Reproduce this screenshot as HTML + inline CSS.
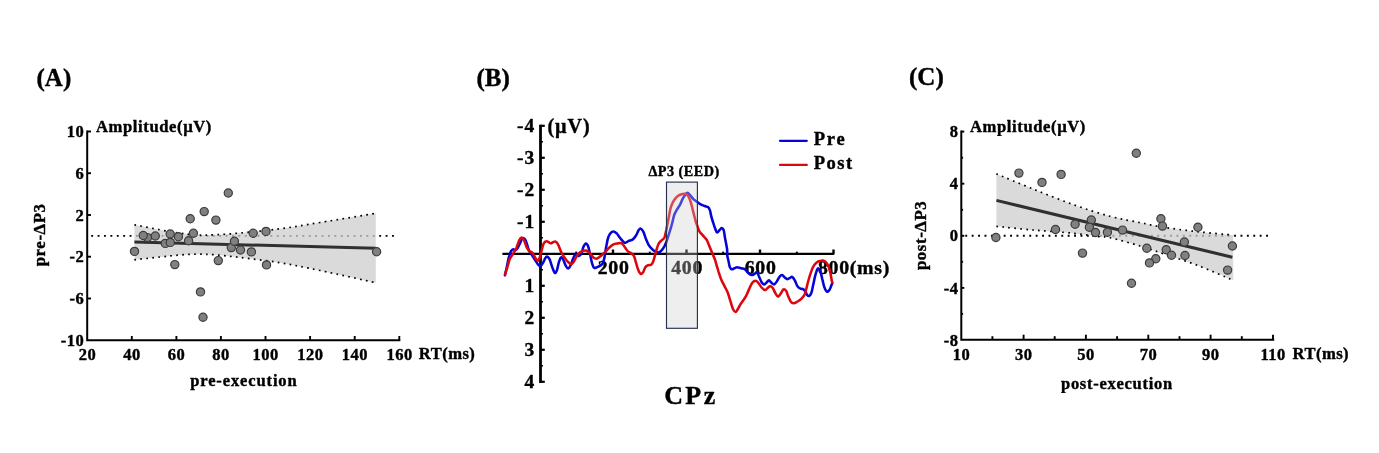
<!DOCTYPE html>
<html><head><meta charset="utf-8"><title>Figure</title>
<style>html,body{margin:0;padding:0;background:#fff;}body{width:1379px;height:453px;overflow:hidden;font-family:"Liberation Serif",serif;}svg{display:block;}text{font-family:"Liberation Serif",serif;font-weight:bold;fill:#000;stroke:#000;stroke-width:0.4px;stroke-linejoin:round;filter:grayscale(1);}</style>
</head><body>
<svg width="1379" height="453" viewBox="0 0 1379 453">
<rect width="1379" height="453" fill="#fff"/>
<text x="36.5" y="85.8" font-size="25" stroke-width="0.15">(A)</text>
<text x="476.5" y="85.8" font-size="25" stroke-width="0.15">(B)</text>
<text x="909" y="84.8" font-size="25" stroke-width="0.15">(C)</text>
<g id="panelA">
<line x1="88.2" y1="235.9" x2="394" y2="235.9" stroke="#000" stroke-width="1.9" stroke-dasharray="1.9 4.5" stroke-dashoffset="-3"/>
<path d="M134.4 224.8C138.7 225.6 152.4 228.4 160.0 229.8C167.6 231.2 173.8 232.3 180.0 233.2C186.2 234.0 191.2 234.6 197.0 234.9C202.8 235.2 207.8 235.1 215.0 234.8C222.2 234.5 229.2 234.0 240.0 233.0C250.8 232.0 266.7 230.6 280.0 228.8C293.3 227.1 304.0 225.1 320.0 222.5C336.0 219.9 366.5 214.8 375.8 213.3L375.8 282.7C366.5 280.7 336.0 273.8 320.0 270.5C304.0 267.2 293.3 264.9 280.0 262.7C266.7 260.5 250.8 258.8 240.0 257.5C229.2 256.2 222.2 255.4 215.0 254.8C207.8 254.2 202.8 254.2 197.0 254.2C191.2 254.2 186.2 254.5 180.0 255.0C173.8 255.5 167.6 256.2 160.0 257.0C152.4 257.8 138.7 259.3 134.4 259.8Z" fill="rgb(205,205,205)" fill-opacity="0.75"/>
<path d="M134.4 224.8C138.7 225.6 152.4 228.4 160.0 229.8C167.6 231.2 173.8 232.3 180.0 233.2C186.2 234.0 191.2 234.6 197.0 234.9C202.8 235.2 207.8 235.1 215.0 234.8C222.2 234.5 229.2 234.0 240.0 233.0C250.8 232.0 266.7 230.6 280.0 228.8C293.3 227.1 304.0 225.1 320.0 222.5C336.0 219.9 366.5 214.8 375.8 213.3" fill="none" stroke="#000" stroke-width="1.7" stroke-dasharray="1.7 4.3"/>
<path d="M134.4 259.8C138.7 259.3 152.4 257.8 160.0 257.0C167.6 256.2 173.8 255.5 180.0 255.0C186.2 254.5 191.2 254.2 197.0 254.2C202.8 254.2 207.8 254.2 215.0 254.8C222.2 255.4 229.2 256.2 240.0 257.5C250.8 258.8 266.7 260.5 280.0 262.7C293.3 264.9 304.0 267.2 320.0 270.5C336.0 273.8 366.5 280.7 375.8 282.7" fill="none" stroke="#000" stroke-width="1.7" stroke-dasharray="1.7 4.3"/>
<line x1="134.4" y1="242.0" x2="375.8" y2="248.3" stroke="#303030" stroke-width="3"/>
<circle cx="134.5" cy="251.4" r="4.1" fill="#808080" stroke="#3c3c3c" stroke-width="1.2"/>
<circle cx="147.5" cy="237.6" r="4.1" fill="#808080" stroke="#3c3c3c" stroke-width="1.2"/>
<circle cx="143.2" cy="235.5" r="4.1" fill="#808080" stroke="#3c3c3c" stroke-width="1.2"/>
<circle cx="155.3" cy="236.0" r="4.1" fill="#808080" stroke="#3c3c3c" stroke-width="1.2"/>
<circle cx="165.3" cy="243.4" r="4.1" fill="#808080" stroke="#3c3c3c" stroke-width="1.2"/>
<circle cx="170.2" cy="234.0" r="4.1" fill="#808080" stroke="#3c3c3c" stroke-width="1.2"/>
<circle cx="170.3" cy="242.4" r="4.1" fill="#808080" stroke="#3c3c3c" stroke-width="1.2"/>
<circle cx="178.4" cy="236.7" r="4.1" fill="#808080" stroke="#3c3c3c" stroke-width="1.2"/>
<circle cx="174.8" cy="264.6" r="4.1" fill="#808080" stroke="#3c3c3c" stroke-width="1.2"/>
<circle cx="188.6" cy="240.7" r="4.1" fill="#808080" stroke="#3c3c3c" stroke-width="1.2"/>
<circle cx="190.2" cy="218.7" r="4.1" fill="#808080" stroke="#3c3c3c" stroke-width="1.2"/>
<circle cx="193.4" cy="233.3" r="4.1" fill="#808080" stroke="#3c3c3c" stroke-width="1.2"/>
<circle cx="204.2" cy="211.6" r="4.1" fill="#808080" stroke="#3c3c3c" stroke-width="1.2"/>
<circle cx="215.9" cy="220.1" r="4.1" fill="#808080" stroke="#3c3c3c" stroke-width="1.2"/>
<circle cx="218.3" cy="260.6" r="4.1" fill="#808080" stroke="#3c3c3c" stroke-width="1.2"/>
<circle cx="228.3" cy="193.0" r="4.1" fill="#808080" stroke="#3c3c3c" stroke-width="1.2"/>
<circle cx="231.3" cy="247.6" r="4.1" fill="#808080" stroke="#3c3c3c" stroke-width="1.2"/>
<circle cx="234.4" cy="241.3" r="4.1" fill="#808080" stroke="#3c3c3c" stroke-width="1.2"/>
<circle cx="240.5" cy="250.0" r="4.1" fill="#808080" stroke="#3c3c3c" stroke-width="1.2"/>
<circle cx="251.4" cy="251.9" r="4.1" fill="#808080" stroke="#3c3c3c" stroke-width="1.2"/>
<circle cx="253.2" cy="233.3" r="4.1" fill="#808080" stroke="#3c3c3c" stroke-width="1.2"/>
<circle cx="266.0" cy="231.4" r="4.1" fill="#808080" stroke="#3c3c3c" stroke-width="1.2"/>
<circle cx="266.5" cy="264.9" r="4.1" fill="#808080" stroke="#3c3c3c" stroke-width="1.2"/>
<circle cx="200.5" cy="291.9" r="4.1" fill="#808080" stroke="#3c3c3c" stroke-width="1.2"/>
<circle cx="203.0" cy="317.3" r="4.1" fill="#808080" stroke="#3c3c3c" stroke-width="1.2"/>
<circle cx="376.6" cy="251.7" r="4.1" fill="#808080" stroke="#3c3c3c" stroke-width="1.2"/>
<path d="M87.2 131.5V340.2H399.3" fill="none" stroke="#000" stroke-width="2" stroke-linecap="square"/>
<line x1="87.2" y1="131.5" x2="91.0" y2="131.5" stroke="#000" stroke-width="1.9"/>
<line x1="87.2" y1="173.2" x2="91.0" y2="173.2" stroke="#000" stroke-width="1.9"/>
<line x1="87.2" y1="215.0" x2="91.0" y2="215.0" stroke="#000" stroke-width="1.9"/>
<line x1="87.2" y1="256.7" x2="91.0" y2="256.7" stroke="#000" stroke-width="1.9"/>
<line x1="87.2" y1="298.5" x2="91.0" y2="298.5" stroke="#000" stroke-width="1.9"/>
<line x1="131.8" y1="340.2" x2="131.8" y2="336.0" stroke="#000" stroke-width="1.9"/>
<line x1="176.4" y1="340.2" x2="176.4" y2="336.0" stroke="#000" stroke-width="1.9"/>
<line x1="220.9" y1="340.2" x2="220.9" y2="336.0" stroke="#000" stroke-width="1.9"/>
<line x1="265.5" y1="340.2" x2="265.5" y2="336.0" stroke="#000" stroke-width="1.9"/>
<line x1="310.1" y1="340.2" x2="310.1" y2="336.0" stroke="#000" stroke-width="1.9"/>
<line x1="354.7" y1="340.2" x2="354.7" y2="336.0" stroke="#000" stroke-width="1.9"/>
<line x1="399.3" y1="340.2" x2="399.3" y2="336.0" stroke="#000" stroke-width="1.9"/>
<text x="84.2" y="137.1" font-size="16.5" text-anchor="end" letter-spacing="0.5">10</text>
<text x="84.2" y="178.8" font-size="16.5" text-anchor="end" letter-spacing="0.5">6</text>
<text x="84.2" y="220.6" font-size="16.5" text-anchor="end" letter-spacing="0.5">2</text>
<text x="84.2" y="262.3" font-size="16.5" text-anchor="end" letter-spacing="0.5">-2</text>
<text x="84.2" y="304.1" font-size="16.5" text-anchor="end" letter-spacing="0.5">-6</text>
<text x="84.2" y="345.8" font-size="16.5" text-anchor="end" letter-spacing="0.5">-10</text>
<text x="87.4" y="359.8" font-size="16.5" text-anchor="middle" letter-spacing="0.5">20</text>
<text x="132.0" y="359.8" font-size="16.5" text-anchor="middle" letter-spacing="0.5">40</text>
<text x="176.6" y="359.8" font-size="16.5" text-anchor="middle" letter-spacing="0.5">60</text>
<text x="221.1" y="359.8" font-size="16.5" text-anchor="middle" letter-spacing="0.5">80</text>
<text x="265.7" y="359.8" font-size="16.5" text-anchor="middle" letter-spacing="0.5">100</text>
<text x="310.3" y="359.8" font-size="16.5" text-anchor="middle" letter-spacing="0.5">120</text>
<text x="354.9" y="359.8" font-size="16.5" text-anchor="middle" letter-spacing="0.5">140</text>
<text x="399.5" y="359.8" font-size="16.5" text-anchor="middle" letter-spacing="0.5">160</text>
<text x="96.0" y="131.7" font-size="16.6" letter-spacing="0.6">Amplitude(µV)</text>
<text x="418.8" y="359" font-size="16.6" letter-spacing="0.45">RT(ms)</text>
<text x="190.2" y="385.7" font-size="16.5" letter-spacing="0.88">pre-execution</text>
<text transform="translate(44.6,234.9) rotate(-90)" font-size="16.8" letter-spacing="0.6" text-anchor="middle">pre-ΔP3</text>
</g>
<g id="panelC">
<line x1="962.3" y1="235.8" x2="1268" y2="235.8" stroke="#000" stroke-width="1.9" stroke-dasharray="1.9 4.5" stroke-dashoffset="-3"/>
<path d="M996.4 173.9C1002.5 176.4 1020.3 183.9 1033.0 189.0C1045.7 194.1 1059.9 199.8 1072.7 204.4C1085.5 209.0 1098.8 213.3 1110.0 216.3C1121.2 219.3 1131.2 220.8 1140.0 222.6C1148.8 224.4 1153.4 225.7 1163.0 227.2C1172.6 228.7 1185.7 230.4 1197.4 231.7C1209.1 233.0 1227.2 234.5 1233.2 235.1L1233.2 280.3C1227.2 277.8 1209.1 269.8 1197.4 265.3C1185.7 260.9 1172.6 256.8 1163.0 253.6C1153.4 250.4 1148.8 248.7 1140.0 246.0C1131.2 243.3 1116.8 239.2 1110.0 237.7C1103.2 236.1 1105.4 237.4 1099.2 236.7C1093.0 235.9 1083.7 234.3 1072.7 233.2C1061.7 232.1 1045.7 231.1 1033.0 230.0C1020.3 228.9 1002.5 227.0 996.4 226.4Z" fill="rgb(205,205,205)" fill-opacity="0.75"/>
<path d="M996.4 173.9C1002.5 176.4 1020.3 183.9 1033.0 189.0C1045.7 194.1 1059.9 199.8 1072.7 204.4C1085.5 209.0 1098.8 213.3 1110.0 216.3C1121.2 219.3 1131.2 220.8 1140.0 222.6C1148.8 224.4 1153.4 225.7 1163.0 227.2C1172.6 228.7 1185.7 230.4 1197.4 231.7C1209.1 233.0 1227.2 234.5 1233.2 235.1" fill="none" stroke="#000" stroke-width="1.7" stroke-dasharray="1.7 4.3"/>
<path d="M996.4 226.4C1002.5 227.0 1020.3 228.9 1033.0 230.0C1045.7 231.1 1061.7 232.1 1072.7 233.2C1083.7 234.3 1093.0 235.9 1099.2 236.7C1105.4 237.4 1103.2 236.1 1110.0 237.7C1116.8 239.2 1131.2 243.3 1140.0 246.0C1148.8 248.7 1153.4 250.4 1163.0 253.6C1172.6 256.8 1185.7 260.9 1197.4 265.3C1209.1 269.8 1227.2 277.8 1233.2 280.3" fill="none" stroke="#000" stroke-width="1.7" stroke-dasharray="1.7 4.3"/>
<line x1="996.4" y1="200.4" x2="1232.4" y2="257.3" stroke="#303030" stroke-width="3"/>
<circle cx="995.9" cy="237.5" r="4.1" fill="#808080" stroke="#3c3c3c" stroke-width="1.2"/>
<circle cx="1018.9" cy="173.1" r="4.1" fill="#808080" stroke="#3c3c3c" stroke-width="1.2"/>
<circle cx="1042.0" cy="182.4" r="4.1" fill="#808080" stroke="#3c3c3c" stroke-width="1.2"/>
<circle cx="1061.1" cy="174.4" r="4.1" fill="#808080" stroke="#3c3c3c" stroke-width="1.2"/>
<circle cx="1055.5" cy="229.5" r="4.1" fill="#808080" stroke="#3c3c3c" stroke-width="1.2"/>
<circle cx="1075.1" cy="224.2" r="4.1" fill="#808080" stroke="#3c3c3c" stroke-width="1.2"/>
<circle cx="1082.5" cy="253.1" r="4.1" fill="#808080" stroke="#3c3c3c" stroke-width="1.2"/>
<circle cx="1091.3" cy="220.0" r="4.1" fill="#808080" stroke="#3c3c3c" stroke-width="1.2"/>
<circle cx="1089.4" cy="227.2" r="4.1" fill="#808080" stroke="#3c3c3c" stroke-width="1.2"/>
<circle cx="1095.5" cy="232.5" r="4.1" fill="#808080" stroke="#3c3c3c" stroke-width="1.2"/>
<circle cx="1107.4" cy="232.2" r="4.1" fill="#808080" stroke="#3c3c3c" stroke-width="1.2"/>
<circle cx="1122.5" cy="230.1" r="4.1" fill="#808080" stroke="#3c3c3c" stroke-width="1.2"/>
<circle cx="1136.3" cy="153.2" r="4.1" fill="#808080" stroke="#3c3c3c" stroke-width="1.2"/>
<circle cx="1160.9" cy="218.7" r="4.1" fill="#808080" stroke="#3c3c3c" stroke-width="1.2"/>
<circle cx="1162.5" cy="226.1" r="4.1" fill="#808080" stroke="#3c3c3c" stroke-width="1.2"/>
<circle cx="1197.9" cy="227.2" r="4.1" fill="#808080" stroke="#3c3c3c" stroke-width="1.2"/>
<circle cx="1146.8" cy="248.3" r="4.1" fill="#808080" stroke="#3c3c3c" stroke-width="1.2"/>
<circle cx="1155.8" cy="258.7" r="4.1" fill="#808080" stroke="#3c3c3c" stroke-width="1.2"/>
<circle cx="1149.5" cy="262.9" r="4.1" fill="#808080" stroke="#3c3c3c" stroke-width="1.2"/>
<circle cx="1166.2" cy="249.7" r="4.1" fill="#808080" stroke="#3c3c3c" stroke-width="1.2"/>
<circle cx="1171.5" cy="255.2" r="4.1" fill="#808080" stroke="#3c3c3c" stroke-width="1.2"/>
<circle cx="1184.4" cy="242.0" r="4.1" fill="#808080" stroke="#3c3c3c" stroke-width="1.2"/>
<circle cx="1185.0" cy="255.5" r="4.1" fill="#808080" stroke="#3c3c3c" stroke-width="1.2"/>
<circle cx="1131.5" cy="283.3" r="4.1" fill="#808080" stroke="#3c3c3c" stroke-width="1.2"/>
<circle cx="1232.4" cy="246.0" r="4.1" fill="#808080" stroke="#3c3c3c" stroke-width="1.2"/>
<circle cx="1227.6" cy="270.1" r="4.1" fill="#808080" stroke="#3c3c3c" stroke-width="1.2"/>
<path d="M961.3 131.6V339.7H1273.2" fill="none" stroke="#000" stroke-width="2" stroke-linecap="square"/>
<line x1="961.3" y1="131.6" x2="964.3" y2="131.6" stroke="#000" stroke-width="1.9"/>
<line x1="961.3" y1="183.7" x2="964.3" y2="183.7" stroke="#000" stroke-width="1.9"/>
<line x1="961.3" y1="235.8" x2="964.3" y2="235.8" stroke="#000" stroke-width="1.9"/>
<line x1="961.3" y1="287.9" x2="964.3" y2="287.9" stroke="#000" stroke-width="1.9"/>
<line x1="961.3" y1="157.7" x2="963.1" y2="157.7" stroke="#000" stroke-width="1.9"/>
<line x1="961.3" y1="209.8" x2="963.1" y2="209.8" stroke="#000" stroke-width="1.9"/>
<line x1="961.3" y1="261.8" x2="963.1" y2="261.8" stroke="#000" stroke-width="1.9"/>
<line x1="961.3" y1="313.9" x2="963.1" y2="313.9" stroke="#000" stroke-width="1.9"/>
<line x1="1023.6" y1="339.7" x2="1023.6" y2="334.7" stroke="#000" stroke-width="1.9"/>
<line x1="1085.9" y1="339.7" x2="1085.9" y2="334.7" stroke="#000" stroke-width="1.9"/>
<line x1="1148.3" y1="339.7" x2="1148.3" y2="334.7" stroke="#000" stroke-width="1.9"/>
<line x1="1210.6" y1="339.7" x2="1210.6" y2="334.7" stroke="#000" stroke-width="1.9"/>
<line x1="1273.0" y1="339.7" x2="1273.0" y2="334.7" stroke="#000" stroke-width="1.9"/>
<line x1="992.4" y1="339.7" x2="992.4" y2="336.2" stroke="#000" stroke-width="1.9"/>
<line x1="1054.7" y1="339.7" x2="1054.7" y2="336.2" stroke="#000" stroke-width="1.9"/>
<line x1="1117.1" y1="339.7" x2="1117.1" y2="336.2" stroke="#000" stroke-width="1.9"/>
<line x1="1179.5" y1="339.7" x2="1179.5" y2="336.2" stroke="#000" stroke-width="1.9"/>
<line x1="1241.8" y1="339.7" x2="1241.8" y2="336.2" stroke="#000" stroke-width="1.9"/>
<text x="958.4" y="137.2" font-size="16.5" text-anchor="end" letter-spacing="0.5">8</text>
<text x="958.4" y="189.3" font-size="16.5" text-anchor="end" letter-spacing="0.5">4</text>
<text x="958.4" y="241.4" font-size="16.5" text-anchor="end" letter-spacing="0.5">0</text>
<text x="958.4" y="293.5" font-size="16.5" text-anchor="end" letter-spacing="0.5">-4</text>
<text x="958.4" y="345.6" font-size="16.5" text-anchor="end" letter-spacing="0.5">-8</text>
<text x="961.4" y="359.6" font-size="16.5" text-anchor="middle" letter-spacing="0.5">10</text>
<text x="1023.8" y="359.6" font-size="16.5" text-anchor="middle" letter-spacing="0.5">30</text>
<text x="1086.1" y="359.6" font-size="16.5" text-anchor="middle" letter-spacing="0.5">50</text>
<text x="1148.5" y="359.6" font-size="16.5" text-anchor="middle" letter-spacing="0.5">70</text>
<text x="1210.8" y="359.6" font-size="16.5" text-anchor="middle" letter-spacing="0.5">90</text>
<text x="1273.2" y="359.6" font-size="16.5" text-anchor="middle" letter-spacing="0.5">110</text>
<text x="970.0" y="131.6" font-size="16.6" letter-spacing="0.6">Amplitude(µV)</text>
<text x="1292.6" y="358.8" font-size="16.6" letter-spacing="0.45">RT(ms)</text>
<text x="1061" y="388.5" font-size="16.5" letter-spacing="0.72">post-execution</text>
<text transform="translate(925.8,235.4) rotate(-90)" font-size="16.8" letter-spacing="0.6" text-anchor="middle">post-ΔP3</text>
</g>
<g id="panelB">
<text x="535.2" y="131.7" font-size="19.5" text-anchor="end" letter-spacing="1">-4</text>
<text x="535.2" y="163.7" font-size="19.5" text-anchor="end" letter-spacing="1">-3</text>
<text x="535.2" y="195.7" font-size="19.5" text-anchor="end" letter-spacing="1">-2</text>
<text x="535.2" y="227.7" font-size="19.5" text-anchor="end" letter-spacing="1">-1</text>
<text x="535.2" y="291.7" font-size="19.5" text-anchor="end" letter-spacing="1">1</text>
<text x="535.2" y="323.7" font-size="19.5" text-anchor="end" letter-spacing="1">2</text>
<text x="535.2" y="355.7" font-size="19.5" text-anchor="end" letter-spacing="1">3</text>
<text x="535.2" y="387.7" font-size="19.5" text-anchor="end" letter-spacing="1">4</text>
<text x="613.7" y="274" font-size="19.8" text-anchor="middle" letter-spacing="0.8">200</text>
<text x="687.2" y="274" font-size="19.8" text-anchor="middle" letter-spacing="0.8">400</text>
<text x="760.7" y="274" font-size="19.8" text-anchor="middle" letter-spacing="0.8">600</text>
<text x="818.0" y="274" font-size="19.8" letter-spacing="0.7">800(ms)</text>
<text x="547.4" y="133" font-size="20" letter-spacing="1">(µV)</text>
<line x1="540.5" y1="124.7" x2="540.5" y2="382.9" stroke="#000" stroke-width="2.8"/>
<line x1="502.4" y1="253.9" x2="834.2" y2="253.9" stroke="#000" stroke-width="2.1"/>
<line x1="540.5" y1="125.8" x2="544.8" y2="125.8" stroke="#000" stroke-width="2.2"/>
<line x1="540.5" y1="157.8" x2="544.8" y2="157.8" stroke="#000" stroke-width="2.2"/>
<line x1="540.5" y1="189.8" x2="544.8" y2="189.8" stroke="#000" stroke-width="2.2"/>
<line x1="540.5" y1="221.8" x2="544.8" y2="221.8" stroke="#000" stroke-width="2.2"/>
<line x1="540.5" y1="285.8" x2="544.8" y2="285.8" stroke="#000" stroke-width="2.2"/>
<line x1="540.5" y1="317.8" x2="544.8" y2="317.8" stroke="#000" stroke-width="2.2"/>
<line x1="540.5" y1="349.8" x2="544.8" y2="349.8" stroke="#000" stroke-width="2.2"/>
<line x1="540.5" y1="381.8" x2="544.8" y2="381.8" stroke="#000" stroke-width="2.2"/>
<line x1="540.5" y1="141.8" x2="543.0" y2="141.8" stroke="#000" stroke-width="1.5"/>
<line x1="540.5" y1="173.8" x2="543.0" y2="173.8" stroke="#000" stroke-width="1.5"/>
<line x1="540.5" y1="205.8" x2="543.0" y2="205.8" stroke="#000" stroke-width="1.5"/>
<line x1="540.5" y1="237.8" x2="543.0" y2="237.8" stroke="#000" stroke-width="1.5"/>
<line x1="540.5" y1="269.8" x2="543.0" y2="269.8" stroke="#000" stroke-width="1.5"/>
<line x1="540.5" y1="301.8" x2="543.0" y2="301.8" stroke="#000" stroke-width="1.5"/>
<line x1="540.5" y1="333.8" x2="543.0" y2="333.8" stroke="#000" stroke-width="1.5"/>
<line x1="540.5" y1="365.8" x2="543.0" y2="365.8" stroke="#000" stroke-width="1.5"/>
<line x1="613.0" y1="253.9" x2="613.0" y2="249.5" stroke="#000" stroke-width="2.4"/>
<line x1="686.5" y1="253.9" x2="686.5" y2="249.5" stroke="#000" stroke-width="2.4"/>
<line x1="760.0" y1="253.9" x2="760.0" y2="249.5" stroke="#000" stroke-width="2.4"/>
<line x1="833.5" y1="253.9" x2="833.5" y2="249.5" stroke="#000" stroke-width="2.4"/>
<line x1="576.2" y1="253.9" x2="576.2" y2="251.6" stroke="#000" stroke-width="1.9"/>
<line x1="649.8" y1="253.9" x2="649.8" y2="251.6" stroke="#000" stroke-width="1.9"/>
<line x1="723.2" y1="253.9" x2="723.2" y2="251.6" stroke="#000" stroke-width="1.9"/>
<line x1="796.8" y1="253.9" x2="796.8" y2="251.6" stroke="#000" stroke-width="1.9"/>
<path d="M505.0 275.3C505.4 273.6 506.6 268.0 507.3 264.7C508.0 261.4 508.6 257.8 509.3 255.5C509.9 253.1 510.6 251.9 511.3 250.8C511.9 249.8 512.6 249.3 513.2 249.2C513.9 249.1 514.6 250.2 515.2 250.2C515.9 250.1 516.4 249.9 517.2 248.8C518.0 247.7 519.0 245.3 519.9 243.5C520.8 241.8 521.6 238.9 522.5 238.2C523.4 237.6 524.4 238.5 525.2 239.6C525.9 240.7 526.5 243.0 527.2 244.9C527.8 246.7 528.4 249.2 529.1 250.8C529.9 252.5 530.8 253.3 531.8 254.8C532.8 256.3 534.1 258.6 535.1 260.1C536.1 261.6 536.9 263.0 537.7 264.1C538.6 265.1 539.5 266.5 540.4 266.3C541.3 266.1 542.2 264.2 543.0 262.7C543.9 261.3 544.9 258.4 545.7 257.5C546.5 256.5 547.0 256.5 547.7 256.8C548.3 257.1 548.9 257.7 549.7 259.4C550.4 261.2 551.4 265.1 552.3 267.4C553.2 269.6 554.2 272.5 555.0 272.9C555.7 273.4 556.3 271.8 557.0 270.0C557.6 268.2 558.3 264.2 558.9 262.1C559.6 260.0 560.3 258.0 560.9 257.5C561.6 256.9 562.1 257.5 562.9 258.8C563.7 260.1 564.7 263.8 565.6 265.4C566.4 267.0 567.3 268.6 568.2 268.4C569.1 268.3 570.0 266.6 570.9 264.7C571.7 262.9 572.6 259.2 573.5 257.5C574.4 255.7 575.3 254.4 576.2 254.1C577.0 253.9 577.9 256.2 578.8 256.1C579.7 256.0 580.7 255.0 581.5 253.5C582.2 251.9 582.7 248.5 583.4 246.9C584.2 245.2 585.1 243.7 585.8 243.5C586.6 243.4 587.4 244.4 588.1 246.2C588.8 248.0 589.4 251.3 590.1 254.1C590.7 257.0 591.4 261.1 592.1 263.4C592.8 265.7 593.2 267.4 594.3 268.0C595.3 268.5 596.9 267.3 598.2 266.7C599.6 266.0 601.2 265.3 602.2 264.0C603.2 262.7 603.5 261.6 604.2 258.7C604.9 255.8 605.5 250.3 606.2 246.8C606.9 243.3 607.4 239.8 608.2 237.5C609.0 235.2 609.9 233.9 610.8 232.9C611.7 231.9 612.5 231.4 613.5 231.6C614.5 231.7 615.6 232.3 616.8 233.5C618.0 234.8 619.4 237.3 620.8 238.8C622.1 240.4 623.4 242.5 624.7 242.8C626.1 243.1 627.4 241.4 628.7 240.8C630.0 240.3 631.5 240.4 632.7 239.5C633.9 238.6 635.0 237.1 636.0 235.5C637.0 234.0 637.9 231.4 638.6 230.2C639.4 229.1 639.9 228.4 640.6 228.6C641.4 228.9 642.4 229.9 643.3 231.6C644.2 233.3 645.0 236.6 645.9 238.8C646.8 241.0 647.6 243.1 648.6 244.8C649.6 246.5 650.8 247.7 651.9 248.8C653.0 249.9 654.1 250.8 655.2 251.4C656.3 252.0 657.4 252.7 658.5 252.5C659.6 252.3 660.8 251.2 661.8 250.1C662.8 249.0 663.7 247.6 664.5 246.1C665.2 244.7 665.5 244.2 666.5 241.5C667.4 238.8 669.3 233.1 670.2 230.0C671.2 226.9 671.6 225.5 672.2 223.0C672.9 220.5 673.4 217.2 674.2 215.0C675.0 212.8 675.9 211.5 676.9 209.7C677.8 208.0 679.2 206.3 680.2 204.4C681.2 202.6 681.9 200.1 682.8 198.5C683.7 196.8 684.7 195.5 685.5 194.5C686.2 193.6 686.7 192.7 687.5 192.8C688.2 192.9 689.1 194.1 690.1 195.2C691.1 196.2 692.2 198.0 693.4 199.1C694.6 200.3 696.2 201.2 697.4 202.1C698.6 202.9 699.5 203.8 700.7 204.4C701.9 205.1 703.5 205.6 704.7 206.0C705.9 206.5 707.1 206.4 708.0 207.1C708.9 207.8 709.4 208.9 710.0 210.4C710.5 211.9 710.7 214.3 711.3 216.4C711.8 218.5 712.6 220.9 713.3 223.0C713.9 225.1 714.6 227.4 715.3 228.9C715.9 230.5 716.4 232.3 717.2 232.5C717.9 232.6 719.0 230.5 719.8 229.8C720.6 229.1 721.1 228.0 721.8 228.1C722.5 228.2 723.2 228.7 723.8 230.5C724.3 232.2 724.5 235.3 725.1 238.4C725.7 241.5 726.7 246.2 727.1 249.0C727.4 251.8 726.9 253.0 727.2 255.0C727.4 257.0 728.0 259.0 728.5 261.0C728.9 262.9 729.2 265.5 729.8 266.9C730.4 268.3 731.0 269.1 731.8 269.3C732.6 269.5 733.6 268.6 734.4 268.2C735.3 267.9 736.0 267.3 737.1 267.3C738.2 267.3 739.8 268.0 741.1 268.2C742.3 268.5 743.4 268.4 744.4 268.9C745.4 269.5 746.1 270.7 747.0 271.6C747.9 272.4 748.8 273.7 749.7 274.2C750.6 274.8 751.4 275.0 752.3 274.9C753.2 274.8 754.2 274.0 755.0 273.5C755.7 273.1 756.3 271.8 757.0 272.2C757.6 272.7 758.2 274.5 758.9 276.2C759.7 277.8 760.7 280.8 761.6 282.2C762.5 283.5 763.4 284.4 764.2 284.4C765.1 284.4 766.1 282.9 766.9 282.2C767.7 281.4 768.1 280.1 768.9 280.2C769.6 280.3 770.6 282.1 771.5 282.8C772.4 283.5 773.3 284.6 774.2 284.4C775.1 284.2 775.9 282.7 776.8 281.5C777.7 280.2 778.6 277.9 779.5 276.9C780.4 275.8 781.2 275.0 782.1 275.1C783.0 275.2 783.9 276.9 784.8 277.5C785.7 278.2 786.5 279.1 787.4 279.1C788.3 279.2 789.3 278.2 790.1 277.8C790.8 277.4 791.3 276.5 792.1 276.9C792.8 277.3 793.8 278.6 794.7 280.2C795.6 281.7 796.4 284.7 797.4 286.1C798.3 287.5 799.5 288.2 800.5 288.7C801.4 289.2 802.3 288.6 803.1 289.1C804.0 289.6 804.8 290.7 805.5 291.7C806.2 292.7 806.5 294.3 807.1 295.0C807.7 295.7 808.4 296.3 809.1 296.0C809.8 295.6 810.7 294.7 811.3 293.0C812.0 291.3 812.4 288.5 813.0 285.8C813.7 283.0 814.4 279.1 815.0 276.5C815.7 273.8 816.5 271.2 817.0 269.9C817.6 268.5 817.8 268.1 818.3 268.3C818.9 268.5 819.7 269.4 820.3 271.2C821.0 273.0 821.7 276.5 822.3 279.1C823.0 281.8 823.6 285.1 824.3 287.1C825.0 289.1 825.7 290.3 826.3 291.1C826.8 291.8 827.1 291.9 827.6 291.7C828.2 291.5 829.0 290.7 829.6 289.7C830.2 288.7 830.8 286.9 831.2 285.8C831.6 284.7 832.1 283.6 832.3 283.1" fill="none" stroke="#0404d8" stroke-width="2.55" stroke-linejoin="round" stroke-linecap="round"/>
<path d="M505.0 274.3C505.4 273.1 506.5 270.0 507.3 267.4C508.1 264.8 508.9 261.1 509.9 258.8C510.9 256.5 512.1 255.4 513.2 253.5C514.3 251.6 515.6 249.7 516.6 247.5C517.5 245.3 518.4 241.9 519.2 240.2C520.0 238.6 520.7 237.7 521.5 237.6C522.2 237.5 523.0 238.0 523.8 239.6C524.7 241.1 525.6 245.0 526.5 246.9C527.4 248.7 528.1 249.8 529.1 250.8C530.1 251.8 531.5 251.7 532.5 252.8C533.4 253.9 534.2 256.1 535.1 257.5C536.0 258.8 537.0 260.8 537.7 260.8C538.5 260.8 539.1 259.2 539.7 257.5C540.4 255.7 541.1 252.5 541.7 250.2C542.4 247.8 542.9 245.0 543.7 243.5C544.5 242.0 545.4 241.3 546.4 241.2C547.4 241.0 548.9 242.5 549.7 242.9C550.4 243.2 550.4 243.4 551.0 243.3C551.5 243.2 552.2 242.5 553.0 242.2C553.8 241.9 554.7 241.1 555.6 241.6C556.5 242.0 557.4 243.2 558.3 244.9C559.2 246.5 560.0 249.6 560.9 251.5C561.8 253.4 562.5 254.5 563.6 256.1C564.7 257.8 566.3 260.1 567.5 261.4C568.8 262.7 569.9 264.0 570.9 264.1C571.9 264.2 572.5 263.4 573.5 262.1C574.5 260.8 575.7 257.8 576.8 256.1C577.9 254.5 579.0 253.0 580.1 252.2C581.2 251.3 582.3 251.0 583.4 250.8C584.5 250.6 585.7 250.4 586.8 250.8C587.9 251.3 589.0 252.4 590.1 253.5C591.2 254.6 592.3 256.6 593.4 257.5C594.4 258.3 595.3 258.7 596.3 258.7C597.2 258.7 597.9 258.0 598.9 257.4C599.9 256.7 601.0 255.8 602.2 254.7C603.4 253.6 604.9 252.1 606.2 250.8C607.5 249.4 609.0 247.8 610.2 246.8C611.4 245.7 612.3 245.0 613.5 244.4C614.7 243.9 616.3 243.7 617.5 243.5C618.6 243.3 619.2 243.0 620.1 243.1C621.0 243.2 621.9 243.3 622.7 244.1C623.6 245.0 624.5 246.9 625.4 248.1C626.3 249.3 627.1 250.5 628.0 251.4C629.0 252.3 630.4 252.6 631.4 253.4C632.4 254.2 633.2 254.5 634.0 256.1C634.8 257.6 635.3 260.5 636.0 262.7C636.7 264.9 637.2 267.4 638.0 269.3C638.8 271.2 639.7 273.5 640.6 273.9C641.5 274.4 642.5 273.1 643.3 272.0C644.1 270.8 644.5 268.4 645.3 267.3C646.0 266.2 646.9 265.8 647.9 265.3C648.9 264.9 650.3 265.3 651.2 264.7C652.1 264.0 652.5 263.0 653.2 261.4C653.9 259.7 654.5 257.1 655.2 254.7C655.9 252.4 656.5 249.4 657.2 247.5C657.8 245.5 658.4 244.0 659.2 242.8C659.9 241.6 660.9 241.0 661.8 240.2C662.7 239.3 663.7 239.2 664.5 237.5C665.2 235.8 665.6 232.9 666.3 230.0C666.9 227.1 667.6 223.7 668.2 220.3C668.9 217.0 669.6 212.5 670.2 209.7C670.9 207.0 671.4 205.5 672.2 203.8C673.0 202.0 673.9 200.5 674.9 199.1C675.9 197.8 677.1 196.6 678.2 195.8C679.3 195.0 680.4 194.6 681.5 194.2C682.6 193.9 683.8 193.7 684.8 193.8C685.8 194.0 686.7 194.4 687.5 195.2C688.2 195.9 688.8 196.9 689.4 198.5C690.1 200.0 690.8 202.1 691.4 204.4C692.1 206.8 692.7 209.7 693.4 212.4C694.1 215.0 694.8 218.1 695.4 220.3C696.0 222.6 696.6 224.0 697.3 225.8C697.9 227.6 698.4 229.6 699.3 231.1C700.2 232.7 701.4 233.7 702.6 235.1C703.8 236.5 705.5 238.0 706.6 239.7C707.7 241.5 708.3 243.6 709.2 245.7C710.1 247.8 710.9 249.9 711.9 252.3C712.8 254.7 714.5 258.2 715.2 260.0C715.8 261.8 715.3 261.0 715.9 262.9C716.5 264.9 717.7 268.8 718.5 271.6C719.4 274.3 720.2 277.1 721.2 279.5C722.2 281.9 723.4 283.9 724.5 286.1C725.6 288.3 726.8 290.2 727.8 292.7C728.8 295.3 729.6 298.6 730.5 301.4C731.3 304.1 732.3 307.5 733.1 309.3C734.0 311.1 734.7 312.0 735.5 312.0C736.3 312.0 736.8 310.7 737.7 309.3C738.7 307.9 739.7 305.4 741.1 303.3C742.4 301.2 744.4 299.0 745.7 296.7C747.0 294.4 747.9 291.8 749.0 289.4C750.1 287.1 751.2 284.2 752.3 282.8C753.4 281.4 754.6 280.8 755.6 280.8C756.6 280.8 757.3 281.7 758.3 282.8C759.3 283.9 760.5 286.2 761.6 287.5C762.7 288.7 763.9 290.0 764.9 290.1C765.9 290.2 766.7 288.8 767.5 288.1C768.4 287.5 769.3 286.1 770.2 286.1C771.1 286.1 772.0 286.9 772.8 288.1C773.7 289.3 774.6 292.0 775.5 293.4C776.4 294.8 777.3 296.7 778.1 296.7C779.0 296.7 779.9 294.6 780.8 293.4C781.7 292.2 782.6 289.9 783.4 289.4C784.3 289.0 785.3 289.7 786.1 290.8C786.9 291.9 787.3 294.3 788.1 296.1C788.9 297.8 789.8 300.1 790.7 301.4C791.6 302.6 792.4 303.2 793.4 303.3C794.4 303.5 795.3 302.9 796.7 302.0C798.1 301.2 800.5 299.6 801.8 298.3C803.1 297.1 803.9 296.0 804.7 294.4C805.5 292.7 805.8 290.7 806.4 288.4C807.0 286.1 807.6 283.2 808.4 280.5C809.2 277.7 810.2 274.3 811.1 271.9C811.9 269.4 812.7 267.5 813.7 265.9C814.7 264.3 815.9 263.0 817.0 262.2C818.1 261.3 819.3 261.1 820.3 260.9C821.3 260.6 822.1 260.4 823.0 260.6C823.9 260.8 824.7 261.0 825.6 261.9C826.5 262.8 827.5 264.1 828.3 265.9C829.1 267.7 829.7 270.2 830.3 272.5C830.8 274.8 831.3 278.1 831.6 279.8C831.9 281.5 832.1 282.0 832.3 282.5" fill="none" stroke="#de060e" stroke-width="2.55" stroke-linejoin="round" stroke-linecap="round"/>
<rect x="666.5" y="182.1" width="30.9" height="146.2" fill="rgb(206,206,209)" fill-opacity="0.34" stroke="#27324e" stroke-width="1.15"/>
<text x="648.4" y="176.2" font-size="14.2" letter-spacing="0.5" stroke-width="0.25">ΔP3 (EED)</text>
<line x1="780" y1="140.8" x2="806.8" y2="140.8" stroke="#0404d8" stroke-width="2.2" stroke-linecap="round"/>
<line x1="780" y1="164.9" x2="806.8" y2="164.9" stroke="#de060e" stroke-width="2.2" stroke-linecap="round"/>
<text x="813.7" y="144.7" font-size="18.5" letter-spacing="1.8">Pre</text>
<text x="813.7" y="168.6" font-size="18.5" letter-spacing="1.55">Post</text>
<text x="664.2" y="403.8" font-size="26" letter-spacing="2.4">CPz</text>
</g>
</svg>
</body></html>
